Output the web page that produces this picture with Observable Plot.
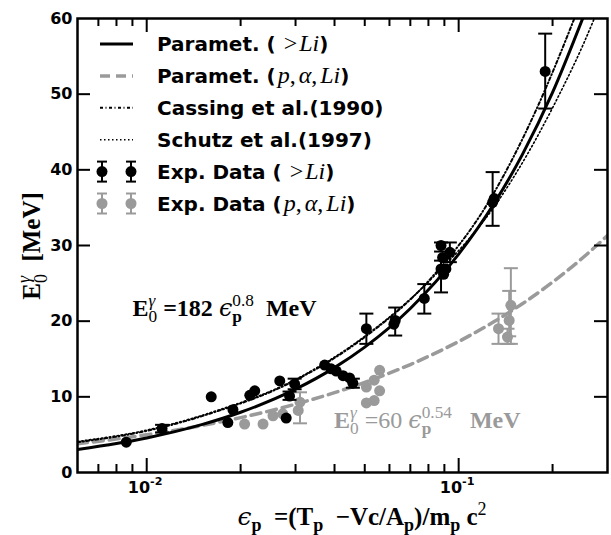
<!DOCTYPE html>
<html><head><meta charset="utf-8">
<script src="https://cdn.jsdelivr.net/npm/d3@7"></script>
<script src="https://cdn.jsdelivr.net/npm/@observablehq/plot@0.6"></script>
<style>body{margin:0;background:#fff} svg{display:block}</style>
</head><body><div id="chart"></div>
<script>
// ---- data ----
const liEps   = [0.0086,0.0112,0.0161,0.0182,0.0189,0.0214,0.0222,0.0267,0.0298,0.0287,0.0280,0.0372,0.0390,0.0405,0.0426,0.0447,0.0458,0.0506,0.0626,0.0620,0.0776,0.0878,0.0937,0.0888,0.0878,0.0910,0.0895,0.1285,0.1300,0.1894];
const liE     = [4.0,5.8,10.0,6.6,8.3,10.2,10.8,12.1,11.7,10.1,7.2,14.2,13.7,13.4,12.8,12.5,11.8,19.0,20.1,19.6,23.0,30.0,29.1,28.4,26.9,26.9,26.2,35.7,36.2,53.0];
const liLo    = [null,5.3,null,null,null,null,null,null,11.0,9.6,null,null,null,null,null,null,11.2,17.0,18.1,null,21.0,29.2,27.8,null,23.8,null,null,32.6,null,48.1];
const liHi    = [null,6.3,null,null,null,null,null,null,12.4,10.7,null,null,null,null,null,null,12.4,21.0,21.8,null,24.9,30.4,30.4,null,28.0,null,null,39.7,null,58.0];

const pEps    = [0.0206,0.0236,0.0254,0.0273,0.0306,0.0310,0.0506,0.0536,0.0558,0.0558,0.0536,0.0506,0.1342,0.1452,0.1470,0.1434];
const pE      = [6.4,6.4,7.5,7.75,8.2,9.3,11.3,12.2,13.5,10.8,9.5,9.2,19.0,20.1,22.1,17.9];
const pLo     = [null,null,null,null,null,6.5,null,null,null,null,null,null,17.0,18.0,17.0,17.0];
const pHi     = [null,null,null,null,null,10.6,null,null,null,null,null,null,21.0,24.0,27.0,19.0];

// parametrisation curves (sampled)
const fitLiEps = [0.006,0.008,0.01,0.015,0.02,0.03,0.04,0.05,0.07,0.1,0.13,0.16,0.2,0.25];
const fitLiE   = [3.04,3.83,4.57,6.32,7.96,11.01,13.86,16.57,21.68,28.85,35.58,42.01,50.23,60.04];
const fitPEps  = [0.006,0.01,0.015,0.02,0.03,0.04,0.05,0.07,0.1,0.13,0.16,0.2,0.25,0.3];
const fitPE    = [3.79,4.99,6.21,7.25,9.03,10.55,11.90,14.27,17.31,19.94,22.30,25.16,28.38,31.32];
const cassEps  = [0.006,0.01,0.016,0.03,0.05,0.08,0.1253,0.178,0.2287,0.24];
const cassE    = [4.0,5.5,7.8,12.2,17.9,25.3,35.9,48.1,58.8,61.0];
const schEps   = [0.006,0.01,0.016,0.03,0.05,0.08,0.1365,0.2,0.272,0.28];
const schE     = [4.1,5.6,7.9,12.3,18.0,25.2,36.4,48.2,60.0,61.3];

const xMajor = [0.01, 0.1];
const xMajorExp = ["-2", "-1"];
const xMinor = [0.007,0.008,0.009,0.02,0.03,0.04,0.05,0.06,0.07,0.08,0.09,0.2];
const yTicks = [0,10,20,30,40,50,60];

const legendLabels = [
  [["Paramet. (","s"],[8,"g"],[">","m"],[2,"g"],["Li","i"],[")","s"]],
  [["Paramet. (","s"],[2,"g"],["p","i"],[",","m"],[3,"g"],["α","i"],[",","m"],[3,"g"],["Li","i"],[")","s"]],
  [["Cassing et al.(1990)","s"]],
  [["Schutz et al.(1997)","s"]],
  [["Exp. Data (","s"],[8,"g"],[">","m"],[2,"g"],["Li","i"],[")","s"]],
  [["Exp. Data (","s"],[2,"g"],["p","i"],[",","m"],[3,"g"],["α","i"],[",","m"],[3,"g"],["Li","i"],[")","s"]]
];

// ---- build tables ----
const GRAY = "#9a9a9a";
const zip = (xs, ys) => xs.map((x, i) => ({x, y: ys[i]}));
const li = liEps.map((x,i)=>({x, y: liE[i], lo: liLo[i], hi: liHi[i]}));
const pa = pEps.map((x,i)=>({x, y: pE[i], lo: pLo[i], hi: pHi[i]}));
const liErr = li.filter(d=>d.lo!=null), paErr = pa.filter(d=>d.lo!=null);

const W = 611, H = 535, mL = 77, mR = 4, mT = 18, mB = 63;
const pH = H - mT - mB, pW = W - mL - mR;

const cap = {draw(ctx, size){ const w = Math.sqrt(size/Math.PI); ctx.moveTo(-w,0); ctx.lineTo(w,0); }};

const errMarks = (data, color) => [
  Plot.ruleX(data, {x:"x", y1:"lo", y2:"hi", stroke: color, strokeWidth: 2}),
  Plot.dot(data, {x:"x", y:"lo", symbol: cap, r: 7, stroke: color, fill: "none", strokeWidth: 2}),
  Plot.dot(data, {x:"x", y:"hi", symbol: cap, r: 7, stroke: color, fill: "none", strokeWidth: 2})
];

const plot = Plot.plot({
  width: W, height: H,
  marginLeft: mL, marginRight: mR, marginTop: mT, marginBottom: mB,
  x: {type: "log", domain: [0.006, 0.3], axis: null},
  y: {domain: [0, 60], axis: null},
  style: {fontFamily: "DejaVu Sans", fontSize: "16px", fontWeight: "bold", color: "black", background: "white"},
  marks: [
    Plot.line(zip(fitPEps, fitPE), {x:"x", y:"y", stroke: GRAY, strokeWidth: 3.5, strokeDasharray: "10,6", curve: "monotone-x", clip: true}),
    ...errMarks(paErr, GRAY),
    Plot.dot(pa, {x:"x", y:"y", r: 5.5, fill: GRAY}),
    Plot.line(zip(schEps, schE), {x:"x", y:"y", stroke: "black", strokeWidth: 1.6, strokeDasharray: "1.5,2.5", curve: "monotone-x", clip: true}),
    Plot.line(zip(cassEps, cassE), {x:"x", y:"y", stroke: "black", strokeWidth: 2, strokeDasharray: "3,2.5,1,2.5", curve: "monotone-x", clip: true}),
    Plot.line(zip(fitLiEps, fitLiE), {x:"x", y:"y", stroke: "black", strokeWidth: 3, curve: "monotone-x", clip: true}),
    ...errMarks(liErr, "black"),
    Plot.dot(li, {x:"x", y:"y", r: 5.5, fill: "black"}),
    // inward ticks
    Plot.tickX(xMajor, {x: d=>d, insetTop: pH-14, stroke: "black", strokeWidth: 2}),
    Plot.tickX(xMajor, {x: d=>d, insetBottom: pH-14, stroke: "black", strokeWidth: 2}),
    Plot.tickX(xMinor, {x: d=>d, insetTop: pH-8, stroke: "black", strokeWidth: 2}),
    Plot.tickX(xMinor, {x: d=>d, insetBottom: pH-8, stroke: "black", strokeWidth: 2}),
    Plot.tickY(yTicks.slice(1,-1), {y: d=>d, insetRight: pW-13, stroke: "black", strokeWidth: 2}),
    Plot.tickY(yTicks.slice(1,-1), {y: d=>d, insetLeft: pW-13, stroke: "black", strokeWidth: 2}),
    Plot.axisY(yTicks, {tickSize: 0, tickPadding: 5, label: null, fontSize: 16, fontWeight: "bold"}),
    Plot.frame({stroke: "black", strokeWidth: 2.5})
  ]
});
document.getElementById("chart").appendChild(plot);

// ---- text helpers ----
const svg = d3.select(plot);
const sx = plot.scale("x"), sy = plot.scale("y");
const SERIF = "'DejaVu Serif', serif", SANS = "'DejaVu Sans', sans-serif", MATH = "'Liberation Serif', serif";

function rich(parent, segs, {x, y, anchor="start", fill="black", size=20, rotate=0}) {
  const g = parent.append("g").attr("fill", fill).attr("text-anchor", "start");
  let cx = 0, last = 0;
  for (const s of segs) {
    if (s.gap) { cx += s.gap; last = 0; continue; }
    const fs = size * (s.k || 1);
    const t = g.append("text").attr("text-anchor", "start").attr("x", s.back ? cx - last : cx).attr("y", s.dy || 0)
      .attr("font-family", s.f || SERIF).attr("font-weight", s.w || "bold")
      .attr("font-style", s.it ? "italic" : "normal").attr("font-size", fs)
      .style("white-space", "pre").text(s.t);
    const w = t.node().getComputedTextLength();
    if (s.back) { cx = cx - last + Math.max(last, w); }
    else { cx += w; last = w; }
  }
  const off = anchor === "middle" ? -cx/2 : anchor === "end" ? -cx : 0;
  g.attr("transform", `translate(${x},${y}) rotate(${rotate}) translate(${off},0)`);
  return g;
}

// x tick labels
xMajor.forEach((v, i) => {
  rich(svg, [
    {t: "10", f: SANS},
    {t: xMajorExp[i], f: SANS, k: 0.7, dy: -8}
  ], {x: sx.apply(v) - 1, y: H - mB + 21, anchor: "middle", size: 16});
});

// axis labels
const E0g = (s) => [
  {t: "E", f: MATH},
  {t: "γ", f: MATH, it: true, w: "normal", k: 0.72, dy: -0.42*s},
  {t: "0", f: MATH, w: "normal", k: 0.72, dy: 0.26*s, back: true}
];
rich(svg, [...E0g(25), {t: "  [MeV]", f: MATH}], {x: 40, y: 246, anchor: "middle", size: 25, rotate: -90});

const xs = 25;
rich(svg, [
  {t: "ϵ", f: SERIF, it: true, w: "normal"},
  {t: "p", f: MATH, k: 0.72, dy: 0.22*xs},
  {t: "  =(T", f: MATH},
  {t: "p", f: MATH, k: 0.72, dy: 0.22*xs},
  {t: "  −Vc/A", f: MATH},
  {t: "p", f: MATH, k: 0.72, dy: 0.22*xs},
  {t: ")/m", f: MATH},
  {t: "p", f: MATH, k: 0.72, dy: 0.22*xs},
  {t: " c", f: MATH},
  {t: "2", f: MATH, w: "normal", k: 0.72, dy: -0.42*xs}
], {x: 362, y: 525, anchor: "middle", size: xs});

// equations
const es = 24;
rich(svg, [...E0g(es), {t: " =182 ", f: MATH},
  {t: "ϵ", f: SERIF, it: true, w: "normal"},
  {t: "0.8", f: MATH, w: "normal", k: 0.72, dy: -0.42*es},
  {t: "p", f: MATH, k: 0.72, dy: 0.26*es, back: true},
  {t: "  MeV", f: MATH}
], {x: sx.apply(0.00904), y: sy.apply(20.6), size: es});

rich(svg, [...E0g(es), {t: " =60 ", f: MATH, w: "normal"},
  {t: "ϵ", f: SERIF, it: true, w: "normal"},
  {t: "0.54", f: MATH, w: "normal", k: 0.72, dy: -0.42*es},
  {t: "p", f: MATH, k: 0.72, dy: 0.26*es, back: true},
  {t: "   MeV", f: MATH}
], {x: sx.apply(0.0400), y: sy.apply(5.8), size: es, fill: GRAY});

// legend
const lg = svg.append("g");
const rowY = i => 44 + i * 31.9;
const lx0 = 100, lx1 = 133, tx = 157;
const styles = [
  {stroke: "black", w: 3, dash: null},
  {stroke: GRAY, w: 3.5, dash: "10,6"},
  {stroke: "black", w: 2, dash: "3,2.5,1,2.5"},
  {stroke: "black", w: 1.6, dash: "1.5,2.5"}
];
styles.forEach((s, i) => {
  lg.append("line").attr("x1", lx0).attr("x2", lx1).attr("y1", rowY(i)).attr("y2", rowY(i))
    .attr("stroke", s.stroke).attr("stroke-width", s.w).attr("stroke-dasharray", s.dash);
});
[["black",4],[GRAY,5]].forEach(([c, i]) => {
  [102, 131].forEach(mx => {
    const y = rowY(i);
    lg.append("line").attr("x1", mx).attr("x2", mx).attr("y1", y-10).attr("y2", y+10).attr("stroke", c).attr("stroke-width", 2);
    lg.append("line").attr("x1", mx-5).attr("x2", mx+5).attr("y1", y-10).attr("y2", y-10).attr("stroke", c).attr("stroke-width", 2);
    lg.append("line").attr("x1", mx-5).attr("x2", mx+5).attr("y1", y+10).attr("y2", y+10).attr("stroke", c).attr("stroke-width", 2);
    lg.append("circle").attr("cx", mx).attr("cy", y).attr("r", 5.5).attr("fill", c);
  });
});
legendLabels.forEach((segs, i) => {
  rich(lg, segs.map(([t, k]) => k === "g" ? {gap: t} : k === "s" ? {t, f: SANS} : k === "i" ? {t, f: MATH, it: true, w: "normal", k: 1.2} : {t, f: MATH, w: "normal", k: 1.2}),
    {x: tx, y: rowY(i) + 7, size: 20});
});
</script>
</body></html>
